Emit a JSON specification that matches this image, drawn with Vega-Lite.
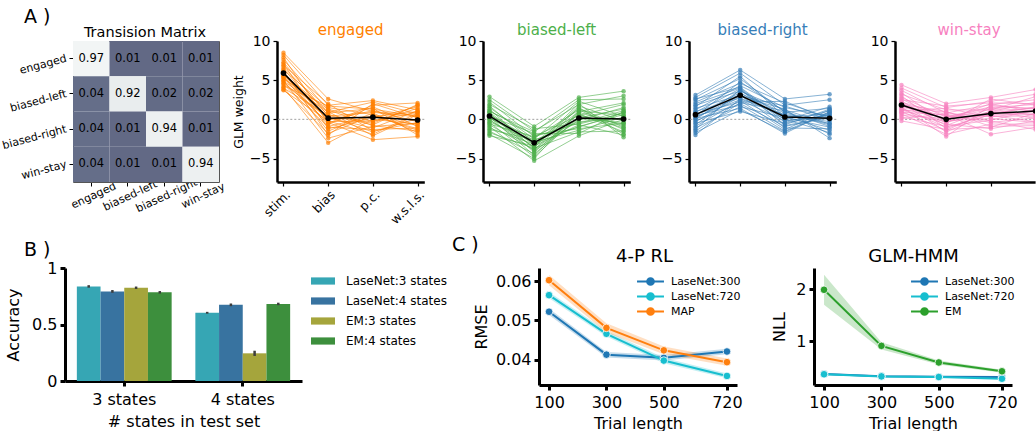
{
  "$schema": "https://vega.github.io/schema/vega-lite/v6.json",
  "padding": {"left": 0, "top": 8, "right": 0, "bottom": 0},
  "config": {
    "view": {"stroke": null},
    "font": "DejaVu Sans",
    "axis": {"grid": false, "domain": true, "ticks": true, "domainColor": "black", "tickColor": "black", "labelColor": "black", "titleColor": "black", "titleFontWeight": "normal", "labelFont": "DejaVu Sans", "titleFont": "DejaVu Sans", "zindex": 1},
    "title": {"fontWeight": "normal", "color": "black", "font": "DejaVu Sans"},
    "legend": {"labelFont": "DejaVu Sans", "labelColor": "black"}
  },
  "title": {"text": "A )", "anchor": "start", "frame": "group", "dx": -41, "fontSize": 19, "offset": -4},
  "datasets": {
    "xi": [{"k": "a", "x": 0}, {"k": "b", "x": 1}, {"k": "c", "x": 2}, {"k": "d", "x": 3}],
    "tm": [
      {"f": "engaged", "t": "engaged", "v": 0.97}, {"f": "engaged", "t": "biased-left", "v": 0.01}, {"f": "engaged", "t": "biased-right", "v": 0.01}, {"f": "engaged", "t": "win-stay", "v": 0.01},
      {"f": "biased-left", "t": "engaged", "v": 0.04}, {"f": "biased-left", "t": "biased-left", "v": 0.92}, {"f": "biased-left", "t": "biased-right", "v": 0.02}, {"f": "biased-left", "t": "win-stay", "v": 0.02},
      {"f": "biased-right", "t": "engaged", "v": 0.04}, {"f": "biased-right", "t": "biased-left", "v": 0.01}, {"f": "biased-right", "t": "biased-right", "v": 0.94}, {"f": "biased-right", "t": "win-stay", "v": 0.01},
      {"f": "win-stay", "t": "engaged", "v": 0.04}, {"f": "win-stay", "t": "biased-left", "v": 0.01}, {"f": "win-stay", "t": "biased-right", "v": 0.01}, {"f": "win-stay", "t": "win-stay", "v": 0.94}
    ],
    "m": [
      {"p": "e", "a": 5.9, "b": 0.15, "c": 0.28, "d": -0.09},
      {"p": "l", "a": 0.42, "b": -2.99, "c": 0.17, "d": 0.04},
      {"p": "r", "a": 0.6, "b": 3.08, "c": 0.3, "d": 0.13},
      {"p": "s", "a": 1.83, "b": 0.0, "c": 0.73, "d": 1.06}
    ],
    "w": [
      {"p":"e","i":1,"a":8.5,"b":2.6,"c":1.0,"d":0.5},{"p":"e","i":2,"a":8.2,"b":1.8,"c":2.4,"d":1.2},{"p":"e","i":3,"a":7.9,"b":-0.5,"c":1.8,"d":2.1},{"p":"e","i":4,"a":7.6,"b":1.2,"c":-0.8,"d":-1.5},{"p":"e","i":5,"a":7.3,"b":0.4,"c":0.9,"d":0.3},{"p":"e","i":6,"a":7.1,"b":-1.2,"c":0.2,"d":1.6},{"p":"e","i":7,"a":6.9,"b":2.0,"c":-1.5,"d":-0.4},{"p":"e","i":8,"a":6.7,"b":0.8,"c":1.4,"d":-2.0},{"p":"e","i":9,"a":6.5,"b":-0.3,"c":-0.2,"d":0.9},{"p":"e","i":10,"a":6.3,"b":1.5,"c":0.6,"d":-0.8},
      {"p":"e","i":11,"a":6.2,"b":-2.0,"c":2.0,"d":0.2},{"p":"e","i":12,"a":6.0,"b":0.2,"c":-1.1,"d":1.1},{"p":"e","i":13,"a":5.9,"b":-0.9,"c":0.4,"d":-1.2},{"p":"e","i":14,"a":5.8,"b":1.0,"c":-2.1,"d":0.6},{"p":"e","i":15,"a":5.7,"b":-0.1,"c":1.1,"d":-0.3},{"p":"e","i":16,"a":5.6,"b":0.6,"c":-0.5,"d":1.8},{"p":"e","i":17,"a":5.5,"b":-1.5,"c":0.8,"d":-1.7},{"p":"e","i":18,"a":5.4,"b":0.3,"c":-1.6,"d":0.1},{"p":"e","i":19,"a":5.3,"b":-0.6,"c":1.6,"d":-0.9},{"p":"e","i":20,"a":5.2,"b":1.3,"c":-0.3,"d":1.4},
      {"p":"e","i":21,"a":5.0,"b":-2.4,"c":-0.9,"d":-0.5},{"p":"e","i":22,"a":4.9,"b":0.9,"c":2.2,"d":0.7},{"p":"e","i":23,"a":4.8,"b":-0.4,"c":-2.6,"d":-2.2},{"p":"e","i":24,"a":4.6,"b":0.1,"c":0.3,"d":1.0},{"p":"e","i":25,"a":4.5,"b":-1.0,"c":-1.3,"d":-1.1},{"p":"e","i":26,"a":4.3,"b":1.7,"c":1.3,"d":0.4},{"p":"e","i":27,"a":4.1,"b":-3.0,"c":0.0,"d":-0.6},{"p":"e","i":28,"a":4.0,"b":0.5,"c":-0.7,"d":1.9},{"p":"e","i":29,"a":3.8,"b":-1.8,"c":0.5,"d":-1.4},{"p":"e","i":30,"a":3.7,"b":-0.2,"c":-1.9,"d":0.8},
      {"p":"l","i":1,"a":2.9,"b":-0.9,"c":2.8,"d":3.6},{"p":"l","i":2,"a":2.5,"b":-1.5,"c":1.9,"d":3.0},{"p":"l","i":3,"a":2.2,"b":-2.2,"c":0.5,"d":1.9},{"p":"l","i":4,"a":1.9,"b":-1.2,"c":-0.6,"d":0.8},{"p":"l","i":5,"a":1.7,"b":-3.0,"c":1.4,"d":-1.0},{"p":"l","i":6,"a":1.5,"b":-2.5,"c":2.3,"d":0.4},{"p":"l","i":7,"a":1.3,"b":-3.8,"c":0.2,"d":1.3},{"p":"l","i":8,"a":1.1,"b":-2.0,"c":-1.2,"d":-0.5},{"p":"l","i":9,"a":0.9,"b":-3.3,"c":1.0,"d":2.1},{"p":"l","i":10,"a":0.8,"b":-4.2,"c":0.7,"d":-1.6},
      {"p":"l","i":11,"a":0.6,"b":-2.7,"c":-0.3,"d":0.1},{"p":"l","i":12,"a":0.5,"b":-3.6,"c":1.7,"d":-0.2},{"p":"l","i":13,"a":0.4,"b":-1.8,"c":-1.8,"d":1.0},{"p":"l","i":14,"a":0.3,"b":-4.6,"c":0.9,"d":-0.8},{"p":"l","i":15,"a":0.2,"b":-3.1,"c":-0.9,"d":0.6},{"p":"l","i":16,"a":0.1,"b":-2.4,"c":1.2,"d":-1.3},{"p":"l","i":17,"a":0.0,"b":-4.0,"c":-0.1,"d":1.5},{"p":"l","i":18,"a":-0.1,"b":-3.5,"c":2.0,"d":-2.3},{"p":"l","i":19,"a":-0.3,"b":-2.9,"c":-1.4,"d":0.3},{"p":"l","i":20,"a":-0.4,"b":-4.8,"c":0.4,"d":-0.6},
      {"p":"l","i":21,"a":-0.6,"b":-2.2,"c":-0.5,"d":1.1},{"p":"l","i":22,"a":-0.7,"b":-3.9,"c":1.5,"d":-1.9},{"p":"l","i":23,"a":-0.9,"b":-5.3,"c":-2.1,"d":0.0},{"p":"l","i":24,"a":-1.1,"b":-3.2,"c":0.6,"d":-1.1},{"p":"l","i":25,"a":-1.3,"b":-2.6,"c":-1.0,"d":0.9},{"p":"l","i":26,"a":-1.5,"b":-4.4,"c":0.1,"d":-0.4},{"p":"l","i":27,"a":-1.7,"b":-3.7,"c":-1.6,"d":-1.5},{"p":"l","i":28,"a":-1.9,"b":-5.0,"c":1.1,"d":0.5},{"p":"l","i":29,"a":-2.1,"b":-3.4,"c":-0.7,"d":-2.0},{"p":"l","i":30,"a":1.0,"b":-1.6,"c":2.5,"d":2.6},
      {"p":"r","i":1,"a":3.1,"b":6.3,"c":2.6,"d":3.2},{"p":"r","i":2,"a":2.8,"b":5.9,"c":1.8,"d":2.5},{"p":"r","i":3,"a":2.5,"b":5.2,"c":0.9,"d":1.4},{"p":"r","i":4,"a":2.2,"b":4.6,"c":2.1,"d":0.2},{"p":"r","i":5,"a":2.0,"b":4.0,"c":-0.4,"d":1.1},{"p":"r","i":6,"a":1.8,"b":3.6,"c":1.2,"d":-0.6},{"p":"r","i":7,"a":1.6,"b":5.5,"c":0.3,"d":0.7},{"p":"r","i":8,"a":1.4,"b":3.1,"c":-1.1,"d":-1.2},{"p":"r","i":9,"a":1.2,"b":4.3,"c":1.5,"d":0.4},{"p":"r","i":10,"a":1.0,"b":2.7,"c":0.6,"d":-0.3},
      {"p":"r","i":11,"a":0.9,"b":3.9,"c":-0.7,"d":1.3},{"p":"r","i":12,"a":0.7,"b":2.2,"c":2.3,"d":0.0},{"p":"r","i":13,"a":0.6,"b":3.4,"c":0.0,"d":-1.7},{"p":"r","i":14,"a":0.5,"b":1.8,"c":-1.5,"d":0.9},{"p":"r","i":15,"a":0.4,"b":4.8,"c":1.0,"d":-0.9},{"p":"r","i":16,"a":0.3,"b":2.5,"c":-0.2,"d":0.5},{"p":"r","i":17,"a":0.2,"b":3.0,"c":1.7,"d":-0.1},{"p":"r","i":18,"a":0.1,"b":1.4,"c":-1.8,"d":1.0},{"p":"r","i":19,"a":0.0,"b":3.7,"c":0.4,"d":-1.4},{"p":"r","i":20,"a":-0.2,"b":2.0,"c":-0.9,"d":0.2},
      {"p":"r","i":21,"a":-0.3,"b":2.9,"c":1.3,"d":-2.4},{"p":"r","i":22,"a":-0.5,"b":1.0,"c":-0.5,"d":0.6},{"p":"r","i":23,"a":-0.7,"b":3.3,"c":0.8,"d":-0.7},{"p":"r","i":24,"a":-0.9,"b":2.4,"c":-1.3,"d":1.2},{"p":"r","i":25,"a":-1.1,"b":1.6,"c":0.2,"d":-1.0},{"p":"r","i":26,"a":-1.3,"b":3.8,"c":-0.8,"d":0.3},{"p":"r","i":27,"a":-1.5,"b":2.1,"c":1.1,"d":-1.9},{"p":"r","i":28,"a":-1.7,"b":1.2,"c":-1.6,"d":0.8},{"p":"r","i":29,"a":-2.0,"b":2.6,"c":0.5,"d":-0.5},{"p":"r","i":30,"a":2.6,"b":4.1,"c":-0.1,"d":1.6},
      {"p":"s","i":1,"a":4.4,"b":2.0,"c":2.8,"d":3.8},{"p":"s","i":2,"a":4.0,"b":1.5,"c":2.3,"d":3.2},{"p":"s","i":3,"a":3.7,"b":0.8,"c":1.9,"d":2.5},{"p":"s","i":4,"a":3.4,"b":-0.5,"c":2.6,"d":1.8},{"p":"s","i":5,"a":3.2,"b":1.2,"c":1.2,"d":2.9},{"p":"s","i":6,"a":3.0,"b":-1.2,"c":0.9,"d":0.6},{"p":"s","i":7,"a":2.8,"b":0.3,"c":1.6,"d":1.4},{"p":"s","i":8,"a":2.6,"b":-0.2,"c":0.1,"d":-0.4},{"p":"s","i":9,"a":2.5,"b":1.7,"c":2.1,"d":2.0},{"p":"s","i":10,"a":2.3,"b":-0.8,"c":1.4,"d":1.1},
      {"p":"s","i":11,"a":2.2,"b":0.6,"c":-0.4,"d":0.2},{"p":"s","i":12,"a":2.1,"b":-1.6,"c":0.7,"d":1.6},{"p":"s","i":13,"a":2.0,"b":0.0,"c":2.0,"d":0.9},{"p":"s","i":14,"a":1.9,"b":1.0,"c":-0.9,"d":-0.8},{"p":"s","i":15,"a":1.8,"b":-0.4,"c":1.0,"d":2.2},{"p":"s","i":16,"a":1.7,"b":0.4,"c":0.4,"d":0.4},{"p":"s","i":17,"a":1.6,"b":-2.2,"c":1.8,"d":1.3},{"p":"s","i":18,"a":1.5,"b":0.9,"c":-0.2,"d":-1.3},{"p":"s","i":19,"a":1.4,"b":-1.0,"c":0.6,"d":0.7},{"p":"s","i":20,"a":1.3,"b":0.2,"c":1.5,"d":1.9},
      {"p":"s","i":21,"a":1.2,"b":-0.6,"c":-1.2,"d":-0.2},{"p":"s","i":22,"a":1.1,"b":1.4,"c":0.3,"d":1.0},{"p":"s","i":23,"a":1.0,"b":-1.4,"c":1.1,"d":0.1},{"p":"s","i":24,"a":0.9,"b":0.6,"c":-1.9,"d":-1.0},{"p":"s","i":25,"a":0.8,"b":-0.3,"c":0.8,"d":1.5},{"p":"s","i":26,"a":0.7,"b":-1.9,"c":-0.6,"d":-0.6},{"p":"s","i":27,"a":0.5,"b":0.1,"c":1.3,"d":0.5},{"p":"s","i":28,"a":0.3,"b":-0.9,"c":-0.1,"d":1.2},{"p":"s","i":29,"a":0.1,"b":0.7,"c":0.5,"d":-0.3},{"p":"s","i":30,"a":-0.2,"b":-1.3,"c":-1.0,"d":0.8}
    ],
    "acc": [
      {"g": "3 states", "m": "LaseNet:3 states", "v": 0.837, "lo": 0.826, "hi": 0.848},
      {"g": "3 states", "m": "LaseNet:4 states", "v": 0.793, "lo": 0.781, "hi": 0.805},
      {"g": "3 states", "m": "EM:3 states", "v": 0.825, "lo": 0.814, "hi": 0.836},
      {"g": "3 states", "m": "EM:4 states", "v": 0.785, "lo": 0.774, "hi": 0.796},
      {"g": "4 states", "m": "LaseNet:3 states", "v": 0.604, "lo": 0.596, "hi": 0.612},
      {"g": "4 states", "m": "LaseNet:4 states", "v": 0.674, "lo": 0.662, "hi": 0.686},
      {"g": "4 states", "m": "EM:3 states", "v": 0.245, "lo": 0.222, "hi": 0.268},
      {"g": "4 states", "m": "EM:4 states", "v": 0.682, "lo": 0.671, "hi": 0.693}
    ],
    "rl": [
      {"s": "LaseNet:300", "t": 100, "v": 0.0522, "lo": 0.0514, "hi": 0.0530},
      {"s": "LaseNet:300", "t": 300, "v": 0.0413, "lo": 0.0406, "hi": 0.0420},
      {"s": "LaseNet:300", "t": 500, "v": 0.0405, "lo": 0.0398, "hi": 0.0412},
      {"s": "LaseNet:300", "t": 720, "v": 0.0421, "lo": 0.0414, "hi": 0.0428},
      {"s": "LaseNet:720", "t": 100, "v": 0.0564, "lo": 0.0556, "hi": 0.0572},
      {"s": "LaseNet:720", "t": 300, "v": 0.0466, "lo": 0.0459, "hi": 0.0473},
      {"s": "LaseNet:720", "t": 500, "v": 0.0398, "lo": 0.0391, "hi": 0.0405},
      {"s": "LaseNet:720", "t": 720, "v": 0.0359, "lo": 0.0353, "hi": 0.0365},
      {"s": "MAP", "t": 100, "v": 0.0602, "lo": 0.0589, "hi": 0.0615},
      {"s": "MAP", "t": 300, "v": 0.0481, "lo": 0.0469, "hi": 0.0493},
      {"s": "MAP", "t": 500, "v": 0.0424, "lo": 0.0414, "hi": 0.0434},
      {"s": "MAP", "t": 720, "v": 0.0394, "lo": 0.0385, "hi": 0.0403}
    ],
    "hmm": [
      {"s": "LaseNet:300", "t": 100, "v": 0.37, "lo": 0.355, "hi": 0.385},
      {"s": "LaseNet:300", "t": 300, "v": 0.325, "lo": 0.312, "hi": 0.338},
      {"s": "LaseNet:300", "t": 500, "v": 0.315, "lo": 0.302, "hi": 0.328},
      {"s": "LaseNet:300", "t": 720, "v": 0.31, "lo": 0.297, "hi": 0.323},
      {"s": "LaseNet:720", "t": 100, "v": 0.363, "lo": 0.35, "hi": 0.376},
      {"s": "LaseNet:720", "t": 300, "v": 0.322, "lo": 0.31, "hi": 0.334},
      {"s": "LaseNet:720", "t": 500, "v": 0.31, "lo": 0.298, "hi": 0.322},
      {"s": "LaseNet:720", "t": 720, "v": 0.277, "lo": 0.265, "hi": 0.289},
      {"s": "EM", "t": 100, "v": 1.99, "lo": 1.7, "hi": 2.28},
      {"s": "EM", "t": 300, "v": 0.91, "lo": 0.84, "hi": 0.98},
      {"s": "EM", "t": 500, "v": 0.59, "lo": 0.55, "hi": 0.63},
      {"s": "EM", "t": 720, "v": 0.42, "lo": 0.39, "hi": 0.45}
    ]
  },
  "spacing": 9,
  "resolve": {"scale": {"color": "independent", "fill": "independent", "stroke": "independent"}, "legend": {"color": "independent", "fill": "independent", "stroke": "independent"}},
  "vconcat": [
    {
      "hconcat": [
        {
          "width": 154, "height": 141,
          "title": {"text": "Transision Matrix", "fontSize": 14.5, "offset": 1, "dx": 3},
          "data": {"name": "tm"},
          "layer": [
            {"mark": {"type": "rect"},
             "encoding": {
               "x": {"field": "t", "type": "nominal", "sort": ["engaged", "biased-left", "biased-right", "win-stay"], "scale": {"rangeMin": 8, "paddingInner": 0, "paddingOuter": 0},
                     "axis": {"orient": "bottom", "title": null, "labelAngle": -25, "labelAlign": "center", "labelBaseline": "top", "labelFontSize": 11, "domainColor": "#555555", "domainWidth": 1, "tickSize": 4, "tickWidth": 1, "labelPadding": 4}},
               "y": {"field": "f", "type": "nominal", "sort": ["engaged", "biased-left", "biased-right", "win-stay"], "scale": {"paddingInner": 0, "paddingOuter": 0},
                     "axis": {"orient": "left", "offset": -8, "title": null, "labelAngle": -15, "labelFontSize": 11, "domainColor": "#555555", "domainWidth": 1, "tickSize": 4, "tickWidth": 1, "labelPadding": 3}},
               "color": {"field": "v", "type": "quantitative", "scale": {"domain": [0, 1], "range": ["#616884", "#f8f9f9"]}, "legend": null}
             }},
            {"mark": {"type": "text", "fontSize": 11.5, "color": "black"},
             "encoding": {
               "x": {"field": "t", "type": "nominal", "sort": ["engaged", "biased-left", "biased-right", "win-stay"], "axis": {"orient": "top", "title": null, "labels": false, "ticks": false, "domainColor": "#555555", "domainWidth": 1}},
               "y": {"field": "f", "type": "nominal", "sort": ["engaged", "biased-left", "biased-right", "win-stay"], "axis": {"orient": "right", "title": null, "labels": false, "ticks": false, "domainColor": "#555555", "domainWidth": 1}},
               "text": {"field": "v", "type": "quantitative", "format": ".2f"}
             }}
          ]
        },
        {
          "width": 147.3, "height": 141,
          "title": {"text": "engaged", "color": "#ff7f00", "fontSize": 15, "offset": -4},
          "layer": [
            {"data": {"values": [{}]}, "mark": {"type": "rule", "color": "#a0a0a0", "strokeDash": [2, 2], "strokeWidth": 1}, "encoding": {"y": {"datum": 0, "type": "quantitative"}}},
            {"data": {"name": "w"}, "transform": [{"filter": "datum.p === 'e'"}, {"fold": ["a", "b", "c", "d"], "as": ["k", "v"]}, {"lookup": "k", "from": {"data": {"name": "xi"}, "key": "k", "fields": ["x"]}}],
             "mark": {"type": "line", "color": "#ff7f00", "opacity": 0.6, "strokeWidth": 1},
             "encoding": {
               "x": {"field": "x", "type": "quantitative", "scale": {"domain": [-0.145, 3.15], "nice": false, "zero": false}, "axis": {"values": [0, 1, 2, 3], "labelExpr": "['stim.','bias','p.c.','w.s.l.s.'][datum.value]", "labelAngle": -45, "labelFontSize": 12.5, "labelPadding": 2, "title": null, "domainWidth": 2.5, "tickSize": 4, "tickWidth": 1.2}},
               "y": {"field": "v", "type": "quantitative", "scale": {"domain": [-8, 10], "nice": false, "zero": false}, "axis": {"values": [-5, 0, 5, 10], "labelFontSize": 14, "title": "GLM weight", "titleFontSize": 12.5, "domainWidth": 2.5, "tickSize": 4, "tickWidth": 1.2, "labelPadding": 3}},
               "detail": {"field": "i", "type": "nominal"}
             }},
            {"data": {"name": "w"}, "transform": [{"filter": "datum.p === 'e'"}, {"fold": ["a", "b", "c", "d"], "as": ["k", "v"]}, {"lookup": "k", "from": {"data": {"name": "xi"}, "key": "k", "fields": ["x"]}}],
             "mark": {"type": "circle", "color": "#ff7f00", "opacity": 0.7, "size": 20},
             "encoding": {"x": {"field": "x", "type": "quantitative"}, "y": {"field": "v", "type": "quantitative"}}},
            {"data": {"name": "m"}, "transform": [{"filter": "datum.p === 'e'"}, {"fold": ["a", "b", "c", "d"], "as": ["k", "v"]}, {"lookup": "k", "from": {"data": {"name": "xi"}, "key": "k", "fields": ["x"]}}],
             "mark": {"type": "line", "color": "black", "strokeWidth": 1.5},
             "encoding": {"x": {"field": "x", "type": "quantitative"}, "y": {"field": "v", "type": "quantitative"}}},
            {"data": {"name": "m"}, "transform": [{"filter": "datum.p === 'e'"}, {"fold": ["a", "b", "c", "d"], "as": ["k", "v"]}, {"lookup": "k", "from": {"data": {"name": "xi"}, "key": "k", "fields": ["x"]}}],
             "mark": {"type": "circle", "color": "black", "size": 32, "opacity": 1},
             "encoding": {"x": {"field": "x", "type": "quantitative"}, "y": {"field": "v", "type": "quantitative"}}}
          ]
        },
        {
          "width": 147.3, "height": 141,
          "title": {"text": "biased-left", "color": "#4daf4a", "fontSize": 15, "offset": -4},
          "layer": [
            {"data": {"values": [{}]}, "mark": {"type": "rule", "color": "#a0a0a0", "strokeDash": [2, 2], "strokeWidth": 1}, "encoding": {"y": {"datum": 0, "type": "quantitative"}}},
            {"data": {"name": "w"}, "transform": [{"filter": "datum.p === 'l'"}, {"fold": ["a", "b", "c", "d"], "as": ["k", "v"]}, {"lookup": "k", "from": {"data": {"name": "xi"}, "key": "k", "fields": ["x"]}}],
             "mark": {"type": "line", "color": "#4daf4a", "opacity": 0.6, "strokeWidth": 1},
             "encoding": {
               "x": {"field": "x", "type": "quantitative", "scale": {"domain": [-0.145, 3.15], "nice": false, "zero": false}, "axis": {"values": [0, 1, 2, 3], "labels": false, "title": null, "domainWidth": 2.5, "tickSize": 4, "tickWidth": 1.2}},
               "y": {"field": "v", "type": "quantitative", "scale": {"domain": [-8, 10], "nice": false, "zero": false}, "axis": {"values": [-5, 0, 5, 10], "labelFontSize": 14, "title": null, "domainWidth": 2.5, "tickSize": 4, "tickWidth": 1.2, "labelPadding": 3}},
               "detail": {"field": "i", "type": "nominal"}
             }},
            {"data": {"name": "w"}, "transform": [{"filter": "datum.p === 'l'"}, {"fold": ["a", "b", "c", "d"], "as": ["k", "v"]}, {"lookup": "k", "from": {"data": {"name": "xi"}, "key": "k", "fields": ["x"]}}],
             "mark": {"type": "circle", "color": "#4daf4a", "opacity": 0.7, "size": 20},
             "encoding": {"x": {"field": "x", "type": "quantitative"}, "y": {"field": "v", "type": "quantitative"}}},
            {"data": {"name": "m"}, "transform": [{"filter": "datum.p === 'l'"}, {"fold": ["a", "b", "c", "d"], "as": ["k", "v"]}, {"lookup": "k", "from": {"data": {"name": "xi"}, "key": "k", "fields": ["x"]}}],
             "mark": {"type": "line", "color": "black", "strokeWidth": 1.5},
             "encoding": {"x": {"field": "x", "type": "quantitative"}, "y": {"field": "v", "type": "quantitative"}}},
            {"data": {"name": "m"}, "transform": [{"filter": "datum.p === 'l'"}, {"fold": ["a", "b", "c", "d"], "as": ["k", "v"]}, {"lookup": "k", "from": {"data": {"name": "xi"}, "key": "k", "fields": ["x"]}}],
             "mark": {"type": "circle", "color": "black", "size": 32, "opacity": 1},
             "encoding": {"x": {"field": "x", "type": "quantitative"}, "y": {"field": "v", "type": "quantitative"}}}
          ]
        },
        {
          "width": 147.3, "height": 141,
          "title": {"text": "biased-right", "color": "#377eb8", "fontSize": 15, "offset": -4},
          "layer": [
            {"data": {"values": [{}]}, "mark": {"type": "rule", "color": "#a0a0a0", "strokeDash": [2, 2], "strokeWidth": 1}, "encoding": {"y": {"datum": 0, "type": "quantitative"}}},
            {"data": {"name": "w"}, "transform": [{"filter": "datum.p === 'r'"}, {"fold": ["a", "b", "c", "d"], "as": ["k", "v"]}, {"lookup": "k", "from": {"data": {"name": "xi"}, "key": "k", "fields": ["x"]}}],
             "mark": {"type": "line", "color": "#377eb8", "opacity": 0.6, "strokeWidth": 1},
             "encoding": {
               "x": {"field": "x", "type": "quantitative", "scale": {"domain": [-0.145, 3.15], "nice": false, "zero": false}, "axis": {"values": [0, 1, 2, 3], "labels": false, "title": null, "domainWidth": 2.5, "tickSize": 4, "tickWidth": 1.2}},
               "y": {"field": "v", "type": "quantitative", "scale": {"domain": [-8, 10], "nice": false, "zero": false}, "axis": {"values": [-5, 0, 5, 10], "labelFontSize": 14, "title": null, "domainWidth": 2.5, "tickSize": 4, "tickWidth": 1.2, "labelPadding": 3}},
               "detail": {"field": "i", "type": "nominal"}
             }},
            {"data": {"name": "w"}, "transform": [{"filter": "datum.p === 'r'"}, {"fold": ["a", "b", "c", "d"], "as": ["k", "v"]}, {"lookup": "k", "from": {"data": {"name": "xi"}, "key": "k", "fields": ["x"]}}],
             "mark": {"type": "circle", "color": "#377eb8", "opacity": 0.7, "size": 20},
             "encoding": {"x": {"field": "x", "type": "quantitative"}, "y": {"field": "v", "type": "quantitative"}}},
            {"data": {"name": "m"}, "transform": [{"filter": "datum.p === 'r'"}, {"fold": ["a", "b", "c", "d"], "as": ["k", "v"]}, {"lookup": "k", "from": {"data": {"name": "xi"}, "key": "k", "fields": ["x"]}}],
             "mark": {"type": "line", "color": "black", "strokeWidth": 1.5},
             "encoding": {"x": {"field": "x", "type": "quantitative"}, "y": {"field": "v", "type": "quantitative"}}},
            {"data": {"name": "m"}, "transform": [{"filter": "datum.p === 'r'"}, {"fold": ["a", "b", "c", "d"], "as": ["k", "v"]}, {"lookup": "k", "from": {"data": {"name": "xi"}, "key": "k", "fields": ["x"]}}],
             "mark": {"type": "circle", "color": "black", "size": 32, "opacity": 1},
             "encoding": {"x": {"field": "x", "type": "quantitative"}, "y": {"field": "v", "type": "quantitative"}}}
          ]
        },
        {
          "width": 140.1, "height": 141,
          "title": {"text": "win-stay", "color": "#f781bf", "fontSize": 15, "offset": -4, "dx": 4},
          "layer": [
            {"data": {"values": [{}]}, "mark": {"type": "rule", "color": "#a0a0a0", "strokeDash": [2, 2], "strokeWidth": 1, "clip": true}, "encoding": {"y": {"datum": 0, "type": "quantitative"}}},
            {"data": {"name": "w"}, "transform": [{"filter": "datum.p === 's'"}, {"fold": ["a", "b", "c", "d"], "as": ["k", "v"]}, {"lookup": "k", "from": {"data": {"name": "xi"}, "key": "k", "fields": ["x"]}}],
             "mark": {"type": "line", "color": "#f781bf", "opacity": 0.6, "strokeWidth": 1, "clip": true},
             "encoding": {
               "x": {"field": "x", "type": "quantitative", "scale": {"domain": [-0.145, 2.989], "nice": false, "zero": false}, "axis": {"values": [0, 1, 2], "labels": false, "title": null, "domainWidth": 2.5, "tickSize": 4, "tickWidth": 1.2}},
               "y": {"field": "v", "type": "quantitative", "scale": {"domain": [-8, 10], "nice": false, "zero": false}, "axis": {"values": [-5, 0, 5, 10], "labelFontSize": 14, "title": null, "domainWidth": 2.5, "tickSize": 4, "tickWidth": 1.2, "labelPadding": 3}},
               "detail": {"field": "i", "type": "nominal"}
             }},
            {"data": {"name": "w"}, "transform": [{"filter": "datum.p === 's'"}, {"fold": ["a", "b", "c", "d"], "as": ["k", "v"]}, {"lookup": "k", "from": {"data": {"name": "xi"}, "key": "k", "fields": ["x"]}}],
             "mark": {"type": "circle", "color": "#f781bf", "opacity": 0.7, "size": 20, "clip": true},
             "encoding": {"x": {"field": "x", "type": "quantitative"}, "y": {"field": "v", "type": "quantitative"}}},
            {"data": {"name": "m"}, "transform": [{"filter": "datum.p === 's'"}, {"fold": ["a", "b", "c", "d"], "as": ["k", "v"]}, {"lookup": "k", "from": {"data": {"name": "xi"}, "key": "k", "fields": ["x"]}}],
             "mark": {"type": "line", "color": "black", "strokeWidth": 1.5, "clip": true},
             "encoding": {"x": {"field": "x", "type": "quantitative"}, "y": {"field": "v", "type": "quantitative"}}},
            {"data": {"name": "m"}, "transform": [{"filter": "datum.p === 's'"}, {"fold": ["a", "b", "c", "d"], "as": ["k", "v"]}, {"lookup": "k", "from": {"data": {"name": "xi"}, "key": "k", "fields": ["x"]}}],
             "mark": {"type": "circle", "color": "black", "size": 32, "opacity": 1, "clip": true},
             "encoding": {"x": {"field": "x", "type": "quantitative"}, "y": {"field": "v", "type": "quantitative"}}}
          ]
        }
      ],
      "spacing": 58,
      "bounds": "flush"
    },
    {
      "hconcat": [
        {
          "width": 397, "height": 113,
          "title": {"text": "B )", "anchor": "start", "frame": "group", "dx": -41, "fontSize": 19, "offset": 0},
          "data": {"name": "acc"},
          "layer": [
            {"mark": {"type": "bar"},
             "encoding": {
               "x": {"field": "g", "type": "nominal", "scale": {"rangeMax": 237, "paddingInner": 0.2, "paddingOuter": 0.1}, "axis": {"title": "# states in test set", "labelAngle": 0, "labelFontSize": 16, "titleFontSize": 16, "domainWidth": 3, "tickWidth": 3, "tickSize": 5, "labelPadding": 5, "titlePadding": 6, "bandPosition": 0.5}},
               "xOffset": {"field": "m", "type": "nominal", "sort": ["LaseNet:3 states", "LaseNet:4 states", "EM:3 states", "EM:4 states"], "scale": {"paddingInner": 0, "paddingOuter": 0}},
               "y": {"field": "v", "type": "quantitative", "scale": {"domain": [0, 1], "nice": false}, "axis": {"values": [0, 0.5, 1], "format": "~g", "title": "Accuracy", "labelFontSize": 16, "titleFontSize": 16, "domainWidth": 3, "tickWidth": 3, "tickSize": 5, "labelPadding": 3, "titlePadding": 10}},
               "color": {"field": "m", "type": "nominal", "sort": ["LaseNet:3 states", "LaseNet:4 states", "EM:3 states", "EM:4 states"], "scale": {"domain": ["LaseNet:3 states", "LaseNet:4 states", "EM:3 states", "EM:4 states"], "range": ["#36a6b4", "#3873a0", "#a5a53c", "#3d8f3d"]},
                         "legend": {"orient": "none", "legendX": 252, "legendY": 7, "title": null, "labelFontSize": 12, "symbolType": "M-2,-0.6L2,-0.6L2,0.6L-2,0.6Z", "symbolSize": 144, "symbolStrokeWidth": 0, "symbolOpacity": 1, "rowPadding": 8, "labelOffset": 17}}
             }},
            {"mark": {"type": "rule", "color": "#3d3d3d", "strokeWidth": 2.5},
             "encoding": {
               "x": {"field": "g", "type": "nominal"},
               "xOffset": {"field": "m", "type": "nominal", "sort": ["LaseNet:3 states", "LaseNet:4 states", "EM:3 states", "EM:4 states"]},
               "y": {"field": "lo", "type": "quantitative"},
               "y2": {"field": "hi"}
             }}
          ]
        },
        {
          "width": 198, "height": 117,
          "title": {"text": "C )", "anchor": "start", "frame": "group", "dx": -87, "fontSize": 19, "offset": -8},
          "data": {"name": "rl"},
          "layer": [
            {"mark": {"type": "area", "opacity": 0.25},
             "encoding": {
               "x": {"field": "t", "type": "quantitative", "scale": {"domain": [65, 755], "nice": false, "zero": false}, "axis": {"orient": "top", "title": "4-P RL", "titleFontSize": 18, "titleX": 105, "titlePadding": 3, "domain": false, "ticks": false, "labels": false}},
               "y": {"field": "lo", "type": "quantitative", "scale": {"domain": [0.0336, 0.0633], "nice": false, "zero": false}, "axis": {"values": [0.04, 0.05, 0.06], "format": ".2f", "title": "RMSE", "labelFontSize": 16, "titleFontSize": 16, "domainWidth": 3, "tickWidth": 3, "tickSize": 5, "labelPadding": 3, "titlePadding": 6}},
               "y2": {"field": "hi"},
               "color": {"field": "s", "type": "nominal", "scale": {"domain": ["MAP", "LaseNet:720", "LaseNet:300"], "range": ["#ff7f0e", "#17becf", "#1f77b4"]}, "legend": null}
             }},
            {"mark": {"type": "line", "strokeWidth": 2},
             "encoding": {
               "x": {"field": "t", "type": "quantitative", "axis": {"orient": "bottom", "values": [100, 300, 500, 720], "format": "d", "title": "Trial length", "labelFontSize": 16, "titleFontSize": 16, "domainWidth": 3, "tickWidth": 3, "tickSize": 5, "labelPadding": 4, "titlePadding": 5}},
               "y": {"field": "v", "type": "quantitative"},
               "color": {"field": "s", "type": "nominal", "legend": null}
             }},
            {"mark": {"type": "point", "filled": true, "size": 20, "opacity": 1, "strokeWidth": 1},
             "encoding": {
               "x": {"field": "t", "type": "quantitative", "axis": null},
               "y": {"field": "v", "type": "quantitative"},
               "fill": {"field": "s", "type": "nominal", "scale": {"domain": ["LaseNet:300", "LaseNet:720", "MAP"], "range": ["#1f77b4", "#17becf", "#ff7f0e"]},
                        "legend": {"orient": "none", "legendX": 104, "legendY": 6, "title": null, "labelFontSize": 11, "symbolType": "M-2.2,0L2.2,0M0.55,0A0.55,0.55,0,1,1,-0.55,0A0.55,0.55,0,1,1,0.55,0Z", "symbolSize": 150, "symbolStrokeWidth": 2, "symbolOpacity": 1, "rowPadding": 0, "labelOffset": 13}},
               "stroke": {"field": "s", "type": "nominal", "scale": {"domain": ["LaseNet:300", "LaseNet:720", "MAP"], "range": ["#1f77b4", "#17becf", "#ff7f0e"]},
                        "legend": {"orient": "none", "legendX": 104, "legendY": 6, "title": null, "labelFontSize": 11, "symbolType": "M-2.2,0L2.2,0M0.55,0A0.55,0.55,0,1,1,-0.55,0A0.55,0.55,0,1,1,0.55,0Z", "symbolSize": 150, "symbolStrokeWidth": 2, "symbolOpacity": 1, "rowPadding": 0, "labelOffset": 13}}
             }},
            {"mark": {"type": "point", "filled": true, "size": 58, "opacity": 1, "stroke": "white", "strokeWidth": 0.8},
             "encoding": {
               "x": {"field": "t", "type": "quantitative", "axis": null},
               "y": {"field": "v", "type": "quantitative"},
               "color": {"field": "s", "type": "nominal", "legend": null}
             }}
          ]
        },
        {
          "width": 198, "height": 117,
          "data": {"name": "hmm"},
          "layer": [
            {"mark": {"type": "area", "opacity": 0.25},
             "encoding": {
               "x": {"field": "t", "type": "quantitative", "scale": {"domain": [65, 755], "nice": false, "zero": false}, "axis": {"orient": "top", "title": "GLM-HMM", "titleFontSize": 18, "titlePadding": 3, "domain": false, "ticks": false, "labels": false}},
               "y": {"field": "lo", "type": "quantitative", "scale": {"domain": [0.156, 2.41], "nice": false, "zero": false}, "axis": {"values": [1, 2], "format": "d", "title": "NLL", "labelFontSize": 16, "titleFontSize": 16, "domainWidth": 3, "tickWidth": 3, "tickSize": 5, "labelPadding": 3, "titlePadding": 8}},
               "y2": {"field": "hi"},
               "color": {"field": "s", "type": "nominal", "scale": {"domain": ["EM", "LaseNet:300", "LaseNet:720"], "range": ["#2ca02c", "#1f77b4", "#17becf"]}, "legend": null}
             }},
            {"mark": {"type": "line", "strokeWidth": 2},
             "encoding": {
               "x": {"field": "t", "type": "quantitative", "axis": {"orient": "bottom", "values": [100, 300, 500, 720], "format": "d", "title": "Trial length", "labelFontSize": 16, "titleFontSize": 16, "domainWidth": 3, "tickWidth": 3, "tickSize": 5, "labelPadding": 4, "titlePadding": 5}},
               "y": {"field": "v", "type": "quantitative"},
               "color": {"field": "s", "type": "nominal", "legend": null}
             }},
            {"mark": {"type": "point", "filled": true, "size": 20, "opacity": 1, "strokeWidth": 1},
             "encoding": {
               "x": {"field": "t", "type": "quantitative", "axis": null},
               "y": {"field": "v", "type": "quantitative"},
               "fill": {"field": "s", "type": "nominal", "scale": {"domain": ["LaseNet:300", "LaseNet:720", "EM"], "range": ["#1f77b4", "#17becf", "#2ca02c"]},
                        "legend": {"orient": "none", "legendX": 103, "legendY": 6, "title": null, "labelFontSize": 11, "symbolType": "M-2.2,0L2.2,0M0.55,0A0.55,0.55,0,1,1,-0.55,0A0.55,0.55,0,1,1,0.55,0Z", "symbolSize": 150, "symbolStrokeWidth": 2, "symbolOpacity": 1, "rowPadding": 0, "labelOffset": 13}},
               "stroke": {"field": "s", "type": "nominal", "scale": {"domain": ["LaseNet:300", "LaseNet:720", "EM"], "range": ["#1f77b4", "#17becf", "#2ca02c"]},
                        "legend": {"orient": "none", "legendX": 103, "legendY": 6, "title": null, "labelFontSize": 11, "symbolType": "M-2.2,0L2.2,0M0.55,0A0.55,0.55,0,1,1,-0.55,0A0.55,0.55,0,1,1,0.55,0Z", "symbolSize": 150, "symbolStrokeWidth": 2, "symbolOpacity": 1, "rowPadding": 0, "labelOffset": 13}}
             }},
            {"mark": {"type": "point", "filled": true, "size": 58, "opacity": 1, "stroke": "white", "strokeWidth": 0.8},
             "encoding": {
               "x": {"field": "t", "type": "quantitative", "axis": null},
               "y": {"field": "v", "type": "quantitative"},
               "color": {"field": "s", "type": "nominal", "legend": null}
             }}
          ]
        }
      ],
      "spacing": 77,
      "bounds": "flush",
      "resolve": {"scale": {"color": "independent", "fill": "independent", "stroke": "independent"}, "legend": {"color": "independent", "fill": "independent", "stroke": "independent"}}
    }
  ]
}
